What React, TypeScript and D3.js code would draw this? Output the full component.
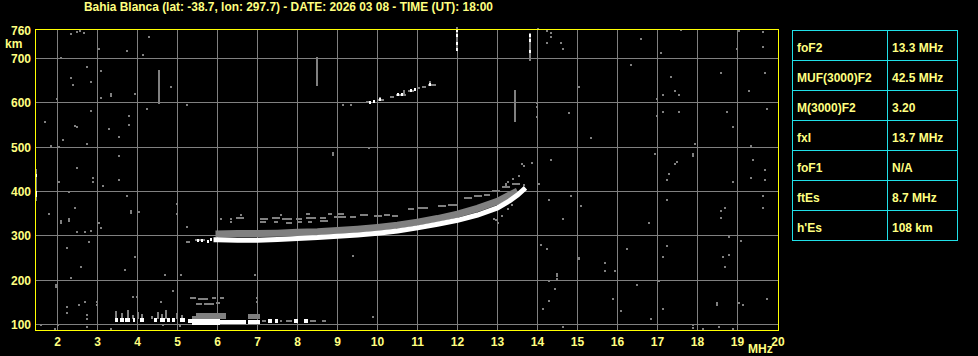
import React, { useEffect } from 'react';
import * as d3 from 'd3';

// ---------- DATA ----------
const TITLE = 'Bahia Blanca (lat: -38.7, lon: 297.7) - DATE: 2026 03 08 - TIME (UT): 18:00';
const freqTicks = [2, 3, 4, 5, 6, 7, 8, 9, 10, 11, 12, 13, 14, 15, 16, 17, 18, 19];
const heightTicks = [100, 200, 300, 400, 500, 600, 700];
const paramNames = ['foF2', 'MUF(3000)F2', 'M(3000)F2', 'fxI', 'foF1', 'ftEs', "h'Es"];
const paramValues = ['13.3 MHz', '42.5 MHz', '3.20', '13.7 MHz', 'N/A', '8.7 MHz', '108 km'];

// F2 trace (MHz, km)
const f2White: [number, number][] = [
  [5.9, 291], [6.0, 291], [6.5, 290], [7.0, 290], [7.5, 292], [8.0, 294], [8.5, 296],
  [9.0, 299], [9.5, 302], [10.0, 306], [10.5, 311], [11.0, 318], [11.5, 326], [12.0, 335],
  [12.5, 347], [13.0, 363], [13.3, 379], [13.5, 392], [13.7, 408],
];
const f2Gray: [number, number][] = [
  [5.95, 304], [6.5, 305], [7.0, 305], [7.5, 306], [8.0, 308], [8.5, 309], [9.0, 312],
  [9.5, 315], [10.0, 319], [10.5, 324], [11.0, 331], [11.5, 339], [12.0, 349], [12.5, 362],
  [13.0, 378], [13.3, 392], [13.5, 401],
];
// upper dashed echoes [fStart, fEnd, km]
const f2UpperDashes: [number, number, number][] = [
  [6.05, 6.12, 339], [6.3, 6.35, 339], [6.45, 6.65, 340], [7.05, 7.25, 339], [7.35, 7.55, 340],
  [7.6, 7.85, 339], [7.95, 8.1, 338], [8.2, 8.45, 340], [8.55, 8.7, 341], [8.9, 9.2, 342],
  [6.3, 6.35, 332], [7.05, 7.2, 332], [7.4, 7.5, 331], [7.7, 7.85, 330], [8.0, 8.1, 332],
  [8.25, 8.35, 332], [8.55, 8.75, 333], [6.55, 6.6, 348], [7.55, 7.6, 348], [8.2, 8.3, 349],
  [8.75, 8.85, 350], [9.0, 9.15, 350], [9.3, 9.45, 343], [9.55, 9.75, 346], [9.9, 10.1, 345],
  [10.15, 10.3, 347], [10.35, 10.5, 344], [10.75, 10.9, 360], [11.0, 11.25, 363],
  [11.5, 11.7, 367], [11.75, 12.0, 370], [12.15, 12.35, 386], [12.4, 12.6, 389],
  [12.65, 12.8, 391], [12.85, 13.05, 402], [13.1, 13.3, 410], [13.35, 13.55, 416],
  [5.44, 5.69, 290], [5.2, 5.3, 287],
];
const whiteDots: [number, number][] = [
  [5.5, 290], [5.6, 291], [5.75, 289], [5.85, 292],
  [9.8, 603], [9.9, 605], [10.05, 608], [10.5, 621], [10.6, 621], [10.85, 629], [10.95, 632], [11.3, 643],
  [11.98, 765], [11.98, 752], [11.98, 736], [11.98, 721], [13.8, 752], [13.82, 742], [13.8, 718],
  [1.47, 437], [1.47, 400], [1.47, 392],
];
// second hop dashes
const hopDashes: [number, number, number][] = [
  [9.7, 9.8, 601], [10.0, 10.15, 606], [10.3, 10.4, 614], [10.45, 10.7, 618],
  [10.75, 10.9, 627], [11.0, 11.05, 633], [11.25, 11.45, 640], [11.1, 11.2, 636],
];
// vertical gray streaks [MHz, kmFrom, kmTo]
const grayStreaks: [number, number, number][] = [
  [4.54, 597, 673], [8.49, 638, 703], [13.44, 557, 629], [1.47, 379, 450],
  [11.98, 716, 770], [13.8, 694, 758], [10.05, 604, 614], [10.65, 617, 628], [11.3, 637, 650],
];
// sporadic E layer
const esWhite: [number, number, number][] = [
  [3.44, 3.52, 110], [3.56, 3.65, 110], [3.69, 3.81, 110], [3.88, 3.93, 110], [4.06, 4.15, 110],
  [4.4, 4.48, 110], [4.56, 4.69, 110], [4.73, 4.81, 110], [4.86, 4.94, 110], [5.06, 5.19, 110],
  [5.27, 6.05, 108], [5.35, 6.05, 104], [6.05, 6.7, 106], [6.75, 7.05, 106], [7.27, 7.35, 109],
  [7.44, 7.52, 109], [7.9, 8.0, 109], [8.15, 8.25, 109],
];
const esGrayBlocks: [number, number, number, number][] = [
  [5.45, 6.2, 112, 127], [6.75, 7.05, 112, 124], [5.35, 5.45, 112, 120],
];
const esGrayStreaks: [number, number, number][] = [
  [3.47, 113, 130], [3.6, 113, 125], [3.75, 113, 132], [3.88, 113, 122], [4.02, 113, 128],
  [4.12, 113, 124], [4.35, 113, 120], [4.5, 113, 128], [4.62, 113, 124], [4.72, 113, 132],
  [4.98, 113, 125], [5.12, 113, 122],
];
const esGrayDashes: [number, number, number][] = [
  [5.3, 5.45, 159], [5.5, 5.75, 158], [5.85, 5.95, 159], [6.05, 6.15, 159], [5.45, 5.6, 147],
  [5.65, 5.9, 146], [5.95, 6.05, 148], [7.1, 7.2, 108], [7.55, 7.62, 108], [7.7, 7.85, 108],
  [8.3, 8.45, 108], [8.6, 8.7, 109],
];
// scattered noise echoes (MHz, km)
const noiseDots: [number, number][] = [
  [2.34, 755], [2.49, 759], [2.55, 762], [2.65, 758], [4.29, 748], [3.03, 721], [3.73, 717], [4.13, 707],
  [2.09, 701], [2.73, 680], [3.08, 672], [2.34, 657], [2.83, 648], [2.38, 640], [4.83, 635], [3.93, 621],
  [3.34, 620], [3.34, 616], [3.08, 612], [1.98, 608], [5.23, 594], [4.24, 585], [2.83, 581], [3.78, 571],
  [1.69, 557], [2.44, 548], [2.49, 545], [3.78, 549], [3.29, 540], [3.53, 522], [2.14, 517], [2.73, 508],
  [1.83, 503], [2.04, 500], [3.53, 481], [2.49, 453], [2.89, 430], [2.89, 421], [3.53, 426], [2.04, 421],
  [3.14, 412], [2.28, 398], [3.74, 389], [2.44, 362], [3.84, 356], [3.84, 352], [4.03, 354], [4.98, 371],
  [4.98, 349], [1.79, 349], [2.09, 333], [2.09, 329], [2.28, 338], [2.28, 334], [3.03, 330], [5.23, 321],
  [3.09, 317], [2.49, 308], [2.69, 308], [2.83, 310], [2.78, 285], [5.23, 285], [2.24, 272], [3.94, 253],
  [2.59, 230], [3.68, 222], [4.69, 212], [5.09, 212], [6.94, 212], [2.34, 204], [1.97, 188], [1.97, 184],
  [4.89, 176], [3.89, 163], [2.69, 151], [2.98, 150], [2.98, 145], [2.54, 145], [2.24, 140], [4.59, 150],
  [2.73, 122], [2.73, 112], [2.73, 95], [2.23, 127], [9.88, 117], [1.59, 99], [2.02, 99], [1.94, 90],
  [3.34, 90], [4.63, 98], [5.06, 96], [9.38, 254], [9.78, 498], [8.88, 487], [8.88, 483], [9.13, 594],
  [9.33, 594], [6.99, 160], [6.99, 150], [3.99, 162],
  [14.24, 762], [14.33, 758], [14.33, 748], [14.24, 735], [14.59, 735], [14.64, 722], [14.02, 767],
  [16.58, 745], [17.58, 765], [19.03, 762], [19.64, 759], [19.64, 726], [18.98, 721], [17.08, 713],
  [16.33, 685], [18.58, 667], [19.69, 667], [17.33, 658], [15.04, 635], [17.43, 626], [17.53, 617],
  [17.13, 617], [19.29, 626], [16.98, 608], [13.98, 599], [13.98, 590], [14.78, 576], [13.98, 567],
  [17.13, 580], [17.53, 580], [18.73, 580], [19.74, 585], [16.98, 571], [18.88, 545], [15.33, 521],
  [17.93, 507], [17.88, 485], [17.88, 480], [19.33, 503], [16.94, 485], [14.33, 472], [13.86, 464],
  [19.38, 472], [17.48, 467], [17.43, 462], [19.69, 448], [17.29, 439], [17.24, 426], [19.33, 430],
  [18.88, 421], [19.69, 426], [14.03, 417], [14.84, 390], [14.28, 380], [17.24, 380], [19.65, 389],
  [19.65, 362], [15.08, 367], [18.58, 357], [18.68, 362], [18.58, 340], [14.64, 339], [16.78, 330],
  [18.78, 298], [19.08, 289], [14.09, 280], [14.24, 271], [16.23, 271], [17.24, 276], [15.04, 251],
  [15.04, 247], [17.13, 253], [18.63, 253], [18.78, 257], [15.69, 239], [15.69, 221], [15.94, 221],
  [18.68, 230], [14.48, 214], [14.48, 210], [14.48, 203], [14.28, 198], [17.03, 198], [16.48, 189],
  [14.44, 180], [15.89, 158], [18.48, 148], [18.48, 144], [19.03, 148], [19.13, 144], [19.74, 158],
  [14.28, 153], [14.14, 135], [16.08, 130], [17.13, 135], [16.83, 112], [14.64, 95], [17.88, 98],
  [17.88, 92], [18.53, 95], [18.13, 90], [18.88, 90],
  [13.6, 462], [13.65, 457], [13.53, 435], [13.39, 429], [13.2, 418], [13.25, 422], [13.22, 415],
  [13.65, 415], [12.97, 335], [13.0, 330], [12.9, 338], [13.1, 345], [13.25, 360], [13.35, 370],
];

// ---------- LAYOUT ----------
const W = 978;
const H = 356;
const PL = 35.5, PR = 778.5, PT = 29.5, PB = 330.5;
const YELLOW = '#ffff80';
const FRAME = '#ffff00';
const GRID = '#808080';
const ECHO = '#808080';
const CYAN = '#20e0e8';
const FONT = "'Liberation Sans', Arial, Helvetica, sans-serif";

const x = d3.scaleLinear().domain([2, 19]).range([57.5, 737.5]);
const y = d3.scaleLinear().domain([100, 700]).range([324.5, 58.5]);
const line = d3.line<[number, number]>().x((d) => x(d[0])).y((d) => y(d[1]));

export default function App() {
  useEffect(() => {
    document.body.style.margin = '0';
    document.body.style.background = '#000';
  }, []);

  const rows = paramNames.map((n, i) => ({ n, v: paramValues[i] }));
  const TX = 792.5, TW = 165, TY = 30.5, RH = 30, CX = 887.5;

  return (
    <svg width={W} height={H} style={{ position: 'absolute', left: 0, top: 0, background: '#000', display: 'block' }}
      fontFamily={FONT} fontWeight="bold" fontSize={12}>
      <rect x={0} y={0} width={W} height={H} fill="#000" />
      <text x={84} y={11} fill={YELLOW} textLength={409} lengthAdjust="spacingAndGlyphs">{TITLE}</text>

      {/* grid */}
      <g shapeRendering="crispEdges" stroke={GRID} strokeWidth={1}>
        {freqTicks.map((f) => (
          <line key={'vx' + f} x1={x(f)} x2={x(f)} y1={PT} y2={PB} />
        ))}
        {heightTicks.map((h) => (
          <line key={'hy' + h} x1={PL} x2={PR} y1={y(h)} y2={y(h)} />
        ))}
      </g>

      {/* echoes */}
      <g shapeRendering="crispEdges">
        {noiseDots.map((d, i) => (
          <rect key={'n' + i} x={Math.round(x(d[0])) - 1} y={Math.round(y(d[1])) - 1} width={2} height={2} fill={ECHO} />
        ))}
        {grayStreaks.map((d, i) => (
          <rect key={'gs' + i} x={Math.round(x(d[0])) - 1} y={y(d[2])} width={2} height={y(d[1]) - y(d[2])} fill={ECHO} />
        ))}
        {esGrayStreaks.map((d, i) => (
          <rect key={'es' + i} x={Math.round(x(d[0])) - 1} y={y(d[2])} width={2} height={y(d[1]) - y(d[2])} fill={ECHO} />
        ))}
        {esGrayBlocks.map((d, i) => (
          <rect key={'eb' + i} x={x(d[0])} y={y(d[3])} width={x(d[1]) - x(d[0])} height={y(d[2]) - y(d[3])} fill={ECHO} />
        ))}
        {[...esGrayDashes, ...f2UpperDashes, ...hopDashes].map((d, i) => (
          <rect key={'gd' + i} x={x(d[0])} y={Math.round(y(d[2])) - 1} width={Math.max(2, x(d[1]) - x(d[0]))} height={2} fill={ECHO} />
        ))}
        {esWhite.map((d, i) => (
          <rect key={'ew' + i} x={x(d[0])} y={Math.round(y(d[2])) - 2} width={Math.max(2, x(d[1]) - x(d[0]))} height={4} fill="#fff" />
        ))}
      </g>
      <path d={line(f2Gray) || ''} fill="none" stroke={ECHO} strokeWidth={7} />
      <path d={line(f2White) || ''} fill="none" stroke="#fff" strokeWidth={5} />
      <g shapeRendering="crispEdges">
        {whiteDots.map((d, i) => (
          <rect key={'w' + i} x={Math.round(x(d[0])) - 1} y={Math.round(y(d[1])) - 1} width={2} height={3} fill="#fff" />
        ))}
      </g>

      {/* frame */}
      <rect x={PL} y={PT} width={PR - PL} height={PB - PT} fill="none" stroke={FRAME} strokeWidth={1} shapeRendering="crispEdges" />

      {/* axis labels */}
      {freqTicks.map((f) => (
        <text key={'xl' + f} x={x(f)} y={346} textAnchor="middle" fill={YELLOW}>{f}</text>
      ))}
      <text x={778} y={346} textAnchor="middle" fill={YELLOW}>20</text>
      <text x={748} y={353} fill={YELLOW}>MHz</text>
      {heightTicks.map((h) => (
        <text key={'yl' + h} x={31} y={y(h) + 4.5} textAnchor="end" fill={YELLOW}>{h}</text>
      ))}
      <text x={31} y={35} textAnchor="end" fill={YELLOW}>760</text>
      <text x={5} y={48} fill={YELLOW}>km</text>

      {/* parameter table */}
      <g shapeRendering="crispEdges" stroke={CYAN} strokeWidth={1} fill="none">
        <rect x={TX} y={TY} width={TW} height={RH * rows.length} />
        <line x1={CX} x2={CX} y1={TY} y2={TY + RH * rows.length} />
        {rows.slice(1).map((_, i) => (
          <line key={'tr' + i} x1={TX} x2={TX + TW} y1={TY + RH * (i + 1)} y2={TY + RH * (i + 1)} />
        ))}
      </g>
      {rows.map((r, i) => (
        <g key={'tt' + i} fill={YELLOW}>
          <text x={797} y={TY + RH * i + 21}>{r.n}</text>
          <text x={892} y={TY + RH * i + 21}>{r.v}</text>
        </g>
      ))}
    </svg>
  );
}
